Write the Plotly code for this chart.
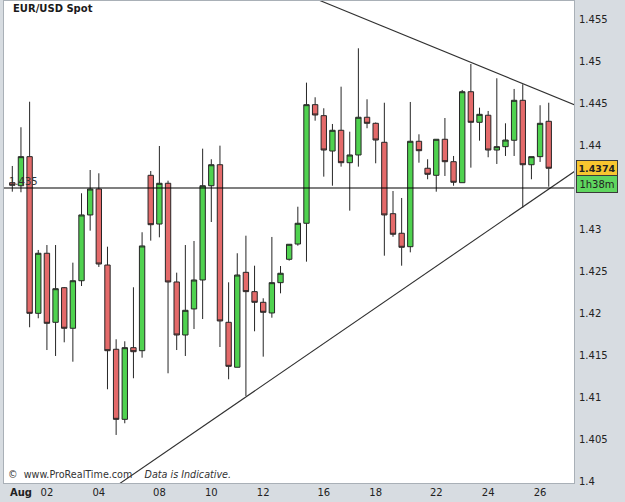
import plotly.graph_objects as go

# ---- data (8-hour EUR/USD candles, Aug 2011) ----
candle_index = list(range(63))
opens = [1.43563, 1.43527, 1.43873, 1.42008, 1.42723, 1.41901, 1.42313, 1.41830, 1.42396, 1.43179,
         1.43488, 1.42583, 1.41580, 1.40746, 1.41599, 1.41563, 1.43651, 1.43071, 1.43556, 1.42381,
         1.41750, 1.42060, 1.42405, 1.43527, 1.43777, 1.41901, 1.41366, 1.42496, 1.42266, 1.42139,
         1.42012, 1.42373, 1.42651, 1.42833, 1.43080, 1.44492, 1.44361, 1.43940, 1.44187, 1.43801,
         1.43893, 1.44342, 1.44270, 1.44044, 1.43194, 1.42961, 1.42801, 1.44056, 1.43735, 1.43651,
         1.44080, 1.43813, 1.43563, 1.44646, 1.44282, 1.44366, 1.43952, 1.43992, 1.44068, 1.44544,
         1.43777, 1.43873, 1.44294]
highs = [1.43762, 1.44223, 1.44527, 1.42762, 1.42821, 1.42821, 1.42321, 1.42611, 1.43437, 1.43714,
         1.43675, 1.42801, 1.41699, 1.41675, 1.42318, 1.42973, 1.43702, 1.44000, 1.43587, 1.42492,
         1.42821, 1.42869, 1.43968, 1.43842, 1.44004, 1.42377, 1.42723, 1.42932, 1.42575, 1.42187,
         1.42917, 1.42571, 1.42833, 1.43277, 1.44754, 1.44580, 1.44449, 1.44262, 1.44706, 1.44170,
         1.45163, 1.44556, 1.44280, 1.44515, 1.43464, 1.43381, 1.44524, 1.44139, 1.43842, 1.44080,
         1.44333, 1.43881, 1.44667, 1.44976, 1.44456, 1.44417, 1.44806, 1.44270, 1.44679, 1.44735,
         1.43873, 1.44485, 1.44515]
lows = [1.43456, 1.43449, 1.41842, 1.41949, 1.41571, 1.41500, 1.41663, 1.41432, 1.42333, 1.42992,
        1.42560, 1.41104, 1.40560, 1.40699, 1.41235, 1.41480, 1.42873, 1.42913, 1.41294, 1.41571,
        1.41500, 1.41821, 1.41940, 1.43095, 1.41607, 1.41223, 1.41366, 1.41024, 1.41794, 1.41492,
        1.41956, 1.42246, 1.42635, 1.42813, 1.42623, 1.44301, 1.43635, 1.43527, 1.43754, 1.43230,
        1.43754, 1.44211, 1.43794, 1.42694, 1.42920, 1.42575, 1.42734, 1.43801, 1.43604, 1.43456,
        1.43643, 1.43527, 1.43563, 1.43742, 1.44063, 1.43866, 1.43786, 1.43881, 1.43881, 1.43266,
        1.43604, 1.43810, 1.43515]
closes = [1.43532, 1.43873, 1.42008, 1.42723, 1.41889, 1.42301, 1.41830, 1.42396, 1.43179, 1.43488,
          1.42595, 1.41563, 1.40746, 1.41599, 1.41551, 1.42810, 1.43063, 1.43556, 1.42381, 1.41750,
          1.42044, 1.42405, 1.43527, 1.43777, 1.41917, 1.41377, 1.42464, 1.42266, 1.42139, 1.42020,
          1.42373, 1.42485, 1.42830, 1.43080, 1.44492, 1.44369, 1.43952, 1.44187, 1.43801, 1.43893,
          1.44342, 1.44270, 1.44071, 1.43179, 1.42949, 1.42794, 1.44056, 1.43944, 1.43663, 1.44080,
          1.43813, 1.43568, 1.44646, 1.44282, 1.44377, 1.43952, 1.43992, 1.44071, 1.44544, 1.43777,
          1.43873, 1.44270, 1.43735]

date_tick_pos = [1, 4, 10, 17, 23, 29, 36, 42, 49, 55, 61]
date_tick_text = ["<b>Aug</b>", "02", "04", "08", "10", "12", "16", "18", "22", "24", "26"]

price_ticks = [1.4, 1.405, 1.41, 1.415, 1.42, 1.425, 1.43, 1.435, 1.44, 1.445, 1.45, 1.455]
price_tick_text = ["1.4", "1.405", "1.41", "1.415", "1.42", "1.425", "1.43", "", "1.44", "1.445", "1.45", "1.455"]

support_level = 1.435
last_price_text = "1.4374"
countdown_text = "1h38m"

upper_trend_x = [35.5, 66.0]
upper_trend_y = [1.45734, 1.44447]
lower_trend_x = [12.0, 66.0]
lower_trend_y = [1.39952, 1.43770]

x_range = [-0.96, 64.92]
y_range = [1.39988, 1.45726]

fig = go.Figure()

fig.add_trace(go.Candlestick(
    x=candle_index, open=opens, high=highs, low=lows, close=closes,
    increasing=dict(fillcolor="#4fd24f", line=dict(color="#262626", width=1)),
    decreasing=dict(fillcolor="#e46a6a", line=dict(color="#262626", width=1)),
    whiskerwidth=0, showlegend=False, hoverinfo="skip",
))

fig.add_trace(go.Scatter(x=upper_trend_x, y=upper_trend_y, mode="lines",
                         line=dict(color="#303030", width=1.1), showlegend=False, hoverinfo="skip"))
fig.add_trace(go.Scatter(x=lower_trend_x, y=lower_trend_y, mode="lines",
                         line=dict(color="#303030", width=1.1), showlegend=False, hoverinfo="skip"))

fig.add_shape(type="line", xref="paper", yref="y", x0=0, x1=1, y0=support_level, y1=support_level,
              line=dict(color="#000000", width=1.2), layer="above")

fig.add_annotation(x=0.005, xref="paper", y=support_level, yref="y", text=f"{support_level:.3f}",
                   showarrow=False, xanchor="left", yanchor="bottom", yshift=-1,
                   font=dict(family="DejaVu Sans", size=10, color="#333333"))

# right-hand price labels
fig.add_annotation(x=1.004, xref="paper", y=float(closes[-1]), yref="y", text=f"<b>{last_price_text}</b>",
                   showarrow=False, xanchor="left", yanchor="middle",
                   bgcolor="#f7c62f", bordercolor="#3a3a3a", borderwidth=1, borderpad=1,
                   width=38, height=12,
                   font=dict(family="DejaVu Sans", size=9.5, color="#222222"))
fig.add_annotation(x=1.004, xref="paper", y=float(closes[-1]), yref="y", yshift=-16, text=countdown_text,
                   showarrow=False, xanchor="left", yanchor="middle",
                   bgcolor="#5fd65f", bordercolor="#3a3a3a", borderwidth=1, borderpad=1,
                   width=38, height=14,
                   font=dict(family="DejaVu Sans", size=10, color="#222222"))

fig.add_annotation(x=0.013, xref="paper", y=0.999, yref="paper", text="<b>EUR/USD Spot</b>",
                   showarrow=False, xanchor="left", yanchor="top",
                   font=dict(family="DejaVu Sans", size=10, color="#1a1a1a"))

fig.add_annotation(x=0.004, xref="paper", y=0.003, yref="paper",
                   text="©  www.ProRealTime.com    <i>Data is Indicative.</i>",
                   showarrow=False, xanchor="left", yanchor="bottom",
                   font=dict(family="DejaVu Sans", size=9.6, color="#333333"))

fig.update_layout(
    width=625, height=502,
    margin=dict(l=4, r=51, t=1, b=19),
    paper_bgcolor="#d7dce1",
    plot_bgcolor="#ffffff",
    boxgap=0.38, boxgroupgap=0,
    font=dict(family="DejaVu Sans", size=10, color="#222222"),
    xaxis=dict(range=x_range, rangeslider=dict(visible=False), showgrid=False, zeroline=False,
               tickmode="array", tickvals=date_tick_pos, ticktext=date_tick_text,
               ticks="", showline=True, linecolor="#a9b0b7", mirror=True,
               tickfont=dict(family="DejaVu Sans", size=10, color="#222222")),
    yaxis=dict(range=y_range, side="right", showgrid=False, zeroline=False,
               tickmode="array", tickvals=price_ticks, ticktext=price_tick_text,
               ticks="", showline=True, linecolor="#a9b0b7", mirror=True,
               tickfont=dict(family="DejaVu Sans", size=10, color="#222222"),
               ticklabelstandoff=2),
    hovermode=False,
)

fig.update_yaxes(tickprefix="<b>", ticksuffix="</b>")

fig.write_html("out.html")
